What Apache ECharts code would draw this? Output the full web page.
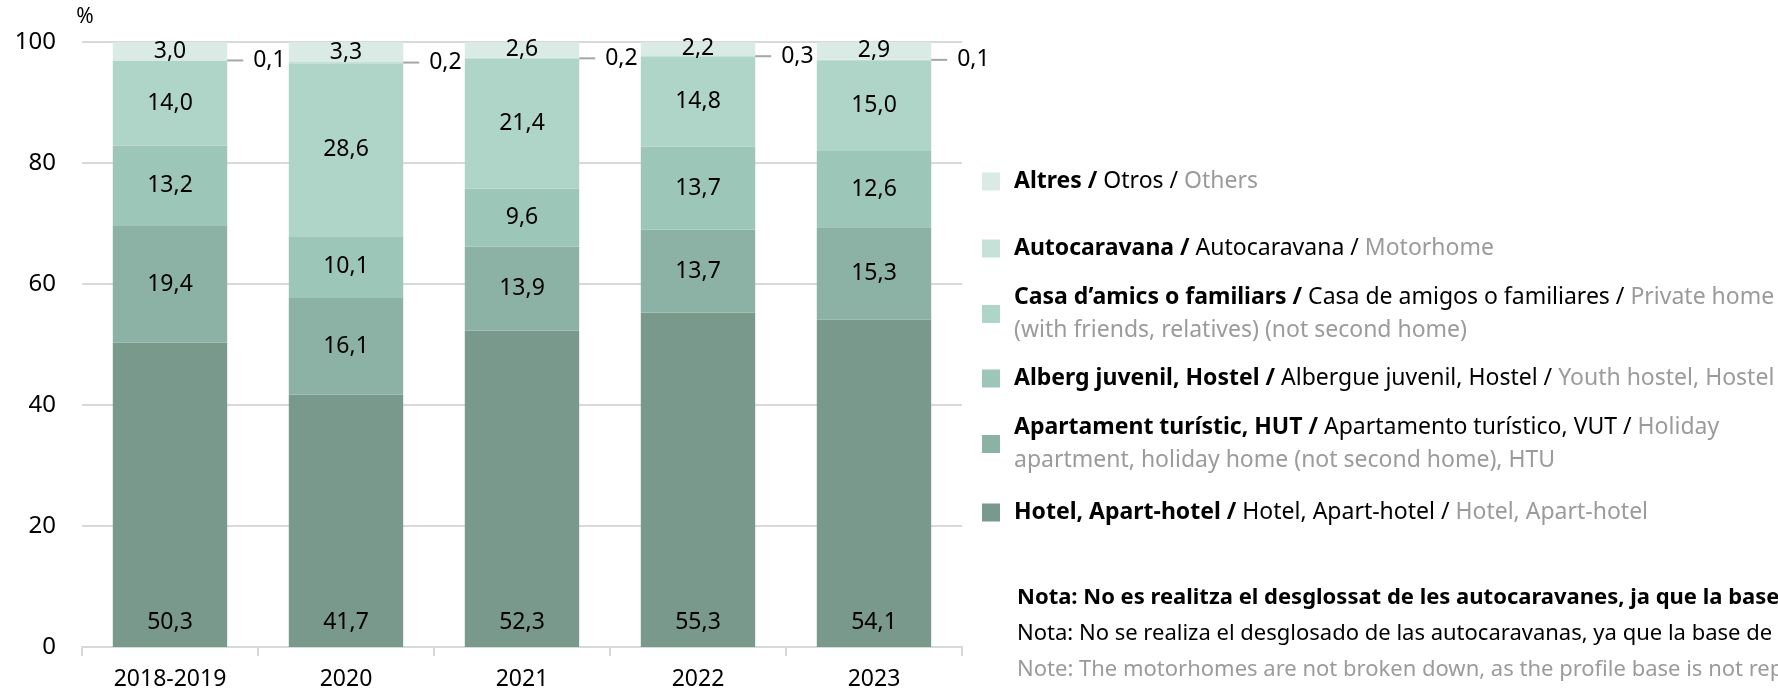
<!DOCTYPE html>
<html>
<head>
<meta charset="utf-8">
<script src="https://cdn.jsdelivr.net/npm/echarts@6/dist/echarts.min.js"></script>
<style>
  html, body { margin: 0; padding: 0; background: #fff; }
  #chart { width: 1778px; height: 693px; }
</style>
</head>
<body>
<div id="chart"></div>
<script>
const years = ['2018-2019', '2020', '2021', '2022', '2023'];
const hotel = [50.3, 41.7, 52.3, 55.3, 54.1];
const apartament = [19.4, 16.1, 13.9, 13.7, 15.3];
const alberg = [13.2, 10.1, 9.6, 13.7, 12.6];
const casa = [14.0, 28.6, 21.4, 14.8, 15.0];
const autocaravana = [0.1, 0.2, 0.2, 0.3, 0.1];
const altres = [3.0, 3.3, 2.6, 2.2, 2.9];
const yTicks = [0, 20, 40, 60, 80, 100];

const FONT = "'Noto Sans', sans-serif";
const fmt = v => v.toFixed(1).replace('.', ',');

// legend texts (ca / es / en)
const legendRows = [
  { name: 'Altres', top: 165, text: '{b|Altres /} Otros / {g|Others}' },
  { name: 'Autocaravana', top: 232, text: '{b|Autocaravana /} Autocaravana / {g|Motorhome}' },
  { name: 'Casa', top: 281, text: '{b|Casa d’amics o familiars /} Casa de amigos o familiares / {g|Private home}\n{g|(with friends, relatives) (not second home)}' },
  { name: 'Alberg', top: 362, text: '{b|Alberg juvenil, Hostel /} Albergue juvenil, Hostel / {g|Youth hostel, Hostel}' },
  { name: 'Apartament', top: 411, text: '{b|Apartament turístic, HUT /} Apartamento turístico, VUT / {g|Holiday}\n{g|apartment, holiday home (not second home), HTU}' },
  { name: 'Hotel', top: 496, text: '{b|Hotel, Apart-hotel /} Hotel, Apart-hotel / {g|Hotel, Apart-hotel}' }
];
const legendText = {};
legendRows.forEach(r => { legendText[r.name] = r.text; });

const colors = {
  Hotel: '#78998c',
  Apartament: '#8bb2a4',
  Alberg: '#9cc6b7',
  Casa: '#afd5c8',
  Autocaravana: '#c6e2d8',
  Altres: '#d9ebe4'
};

function barSeries(name, data, pos) {
  return {
    name: name,
    type: 'bar',
    stack: 'total',
    data: data,
    barCategoryGap: '35%',
    itemStyle: { color: colors[name] },
    label: {
      show: true,
      position: pos || 'inside',
      distance: 13,
      color: '#000',
      fontFamily: FONT,
      fontSize: 23,
      formatter: p => fmt(p.value)
    }
  };
}

const chart = echarts.init(document.getElementById('chart'));
const series = [
  barSeries('Hotel', hotel, 'insideBottom'),
  barSeries('Apartament', apartament),
  barSeries('Alberg', alberg),
  barSeries('Casa', casa),
  {
    name: 'Autocaravana',
    type: 'bar',
    stack: 'total',
    data: autocaravana,
    itemStyle: { color: colors.Autocaravana },
    label: {
      show: true,
      position: 'right',
      distance: 0,
      color: '#000',
      fontFamily: FONT,
      fontSize: 23,
      formatter: p => '{l| }{v|' + fmt(p.value) + '}',
      rich: {
        l: { width: 16, height: 2, backgroundColor: '#a6a6a6' },
        v: { fontFamily: FONT, fontSize: 23, color: '#000', padding: [0, 0, 0, 10] }
      }
    }
  },
  barSeries('Altres', altres)
];

chart.setOption({
  animation: false,
  textStyle: { fontFamily: FONT },
  grid: { left: 82, right: 816, top: 42, bottom: 46 },
  legend: legendRows.map(r => ({
    data: [r.name],
    left: 982,
    top: r.top,
    padding: 0,
    orient: 'vertical',
    itemWidth: 18,
    itemHeight: 18,
    icon: 'rect',
    selectedMode: false,
    formatter: name => legendText[name],
    textStyle: {
      fontFamily: FONT,
      fontSize: 23,
      color: '#000',
      lineHeight: 33,
      padding: [0, 0, 0, 9],
      rich: {
        b: { fontFamily: FONT, fontSize: 23, fontWeight: 'bold', color: '#000', lineHeight: 33 },
        g: { fontFamily: FONT, fontSize: 23, color: '#9b9b9b', lineHeight: 33 }
      }
    }
  })),
  xAxis: {
    type: 'category',
    data: years,
    axisLine: { lineStyle: { color: '#d9d9d9', width: 2 } },
    axisTick: { show: true, length: 9, lineStyle: { color: '#d9d9d9', width: 2 } },
    axisLabel: { color: '#000', fontFamily: FONT, fontSize: 23, margin: 21 }
  },
  yAxis: {
    type: 'value',
    min: yTicks[0],
    max: yTicks[yTicks.length - 1],
    interval: yTicks[1] - yTicks[0],
    name: '%',
    nameGap: 14,
    nameTextStyle: { color: '#000', fontFamily: FONT, fontSize: 21, align: 'center', padding: [0, 0, 0, 6] },
    axisLine: { show: false },
    axisTick: { show: false },
    splitLine: { lineStyle: { color: '#d9d9d9', width: 2 } },
    axisLabel: { color: '#000', fontFamily: FONT, fontSize: 24, margin: 26 }
  },
  graphic: [
    {
      type: 'text', x: 1017, y: 598,
      style: { text: 'Nota: No es realitza el desglossat de les autocaravanes, ja que la base de perfil no és representativa.', fontFamily: FONT, fontSize: 22, fontWeight: 'bold', fill: '#000', verticalAlign: 'middle' }
    },
    {
      type: 'text', x: 1017, y: 634,
      style: { text: 'Nota: No se realiza el desglosado de las autocaravanas, ya que la base de perfil no es representativa.', fontFamily: FONT, fontSize: 22, fill: '#000', verticalAlign: 'middle' }
    },
    {
      type: 'text', x: 1017, y: 670,
      style: { text: 'Note: The motorhomes are not broken down, as the profile base is not representative.', fontFamily: FONT, fontSize: 22, fill: '#9b9b9b', verticalAlign: 'middle' }
    }
  ],
  series: series
});
</script>
</body>
</html>
